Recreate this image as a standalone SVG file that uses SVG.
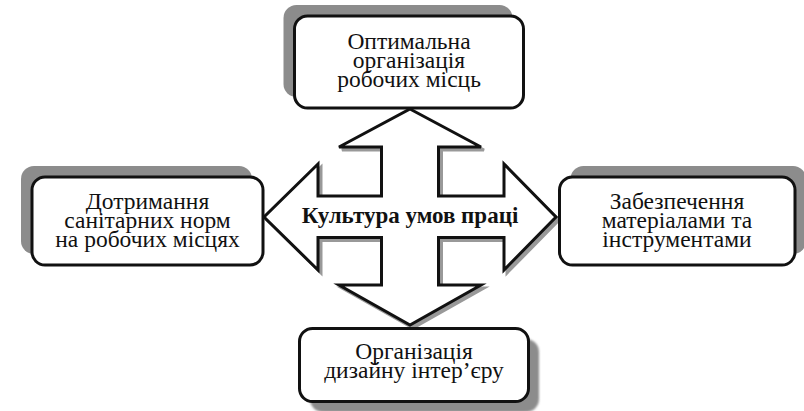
<svg xmlns="http://www.w3.org/2000/svg" width="804" height="411" viewBox="0 0 804 411">
<defs>
<style>
.box{fill:#fff;stroke:#111;stroke-width:3}
.sh{fill:#8c8c8c}
.t{font-family:"Liberation Serif","DejaVu Serif",serif;font-size:23.5px;fill:#111;text-anchor:middle}
.c{font-family:"Liberation Serif","DejaVu Serif",serif;font-size:23px;font-weight:bold;fill:#111;text-anchor:middle}
</style>
<filter id="blur" x="-10%" y="-10%" width="120%" height="120%"><feGaussianBlur stdDeviation="1.2"/></filter>
</defs>
<rect width="804" height="411" fill="#fff"/>
<g id="connectors">
<polygon transform="translate(3,3)" fill="#999" stroke="#999" stroke-width="3" stroke-linejoin="miter" points="410,109 481,147 438.5,147 438.5,196 504,196 504,164 556,217 504,270 504,237.5 438.5,237.5 438.5,285 481,285 410,325 339,285 381.5,285 381.5,237.5 318,237.5 318,270 264,217 318,164 318,196 381.5,196 381.5,147 339,147"/>
<polygon fill="#fff" stroke="#111" stroke-width="3" stroke-linejoin="miter" points="410,109 481,147 438.5,147 438.5,196 504,196 504,164 556,217 504,270 504,237.5 438.5,237.5 438.5,285 481,285 410,325 339,285 381.5,285 381.5,237.5 318,237.5 318,270 264,217 318,164 318,196 381.5,196 381.5,147 339,147"/>
</g>
<g id="center">
<text class="c" x="410" y="222.5">Культура умов праці</text>
</g>
<g id="top">
<rect class="sh" x="283.5" y="5" width="229" height="92" rx="13"/>
<rect class="box" x="294.5" y="16" width="229" height="92" rx="13"/>
<text class="t" x="409" y="49.3">Оптимальна</text>
<text class="t" x="409" y="68.3">організація</text>
<text class="t" x="409" y="87">робочих місць</text>
</g>
<g id="left">
<rect class="sh" x="21" y="166" width="231" height="88" rx="13"/>
<rect class="box" x="32" y="177" width="231" height="88" rx="13"/>
<text class="t" x="147.5" y="209.3">Дотримання</text>
<text class="t" x="147.5" y="228.3">санітарних норм</text>
<text class="t" x="147.5" y="246.7">на робочих місцях</text>
</g>
<g id="right">
<rect class="sh" x="570.5" y="166" width="235.5" height="88" rx="13"/>
<rect class="box" x="559.5" y="177" width="235.5" height="88" rx="13"/>
<text class="t" x="677" y="209.3">Забезпечення</text>
<text class="t" x="677" y="228.3">матеріалами та</text>
<text class="t" x="677" y="246.7">інструментами</text>
</g>
<g id="bottom">
<rect class="sh" x="310" y="339" width="229" height="73" rx="13" filter="url(#blur)"/>
<rect class="box" x="299.5" y="328.5" width="229" height="73" rx="13"/>
<text class="t" x="414" y="359.3">Організація</text>
<text class="t" x="414" y="378.3">дизайну інтер’єру</text>
</g>
</svg>
